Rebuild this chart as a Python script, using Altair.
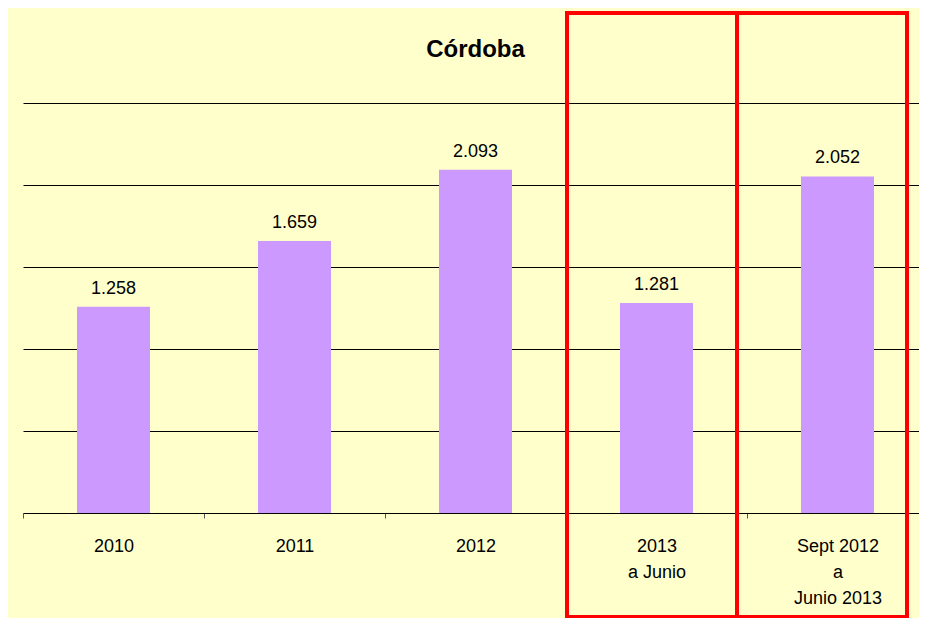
import altair as alt
import pandas as pd

categories = ["2010", "2011", "2012", "2013\na Junio", "Sept 2012\na\nJunio 2013"]
values = [1258, 1659, 2093, 1281, 2052]
labels = [f"{v:,}".replace(",", ".") for v in values]
title_text = ["Córdoba"]

df = pd.DataFrame({"cat": categories, "val": values, "lab": labels})
df_title = pd.DataFrame({"t": title_text})

FONT = "Liberation Sans"
W = 905
H = 410

x = alt.X(
    "cat:N",
    sort=categories,
    scale=alt.Scale(paddingInner=0, paddingOuter=0),
    axis=alt.Axis(
        title=None,
        labelAngle=0,
        labelFont=FONT,
        labelFontSize=18,
        labelColor="black",
        labelLineHeight=26,
        labelPadding=19,
        labelExpr="isString(datum.value) ? split(datum.value, '\\n') : ''",
        domainColor="black",
        domainWidth=1,
        tickColor="#555555",
        tickSize=5,
        tickBand="extent",
    ),
)
y = alt.Y(
    "val:Q",
    scale=alt.Scale(domain=[0, 2500], nice=False),
    axis=alt.Axis(
        title=None,
        labels=False,
        ticks=False,
        domain=False,
        grid=True,
        gridColor="black",
        gridOpacity=1,
        gridWidth=1,
        values=[500, 1000, 1500, 2000, 2500],
    ),
)

bars = alt.Chart(df).mark_bar(color="#CC99FF", size=73).encode(x=x, y=y)
text = alt.Chart(df).mark_text(
    baseline="bottom", dy=-9, font=FONT, fontSize=18, color="black"
).encode(x=alt.X("cat:N", sort=categories), y="val:Q", text="lab:N")

title = alt.Chart(df_title).mark_text(
    font=FONT, fontSize=24, fontWeight="bold", color="black",
    baseline="middle", align="center",
).encode(x=alt.value(W / 2), y=alt.value(-53), text="t:N")

box_style = dict(filled=False, stroke="#FF0000", strokeWidth=4)
box1 = alt.Chart(df_title).mark_rect(**box_style).encode(
    x=alt.value(544), x2=alt.value(714), y=alt.value(-90), y2=alt.value(514)
)
box2 = alt.Chart(df_title).mark_rect(**box_style).encode(
    x=alt.value(714), x2=alt.value(884), y=alt.value(-90), y2=alt.value(514)
)

chart = (
    alt.layer(bars, text, title, box1, box2)
    .properties(
        width=W,
        height=H,
        background="#FFFFCC",
        autosize=alt.AutoSizeParams(type="none"),
        padding={"left": 15, "top": 95, "right": -9, "bottom": 105},
    )
    .configure_view(stroke=None)
)

chart.save("out.html", embed_options={"renderer": "svg", "actions": False})
